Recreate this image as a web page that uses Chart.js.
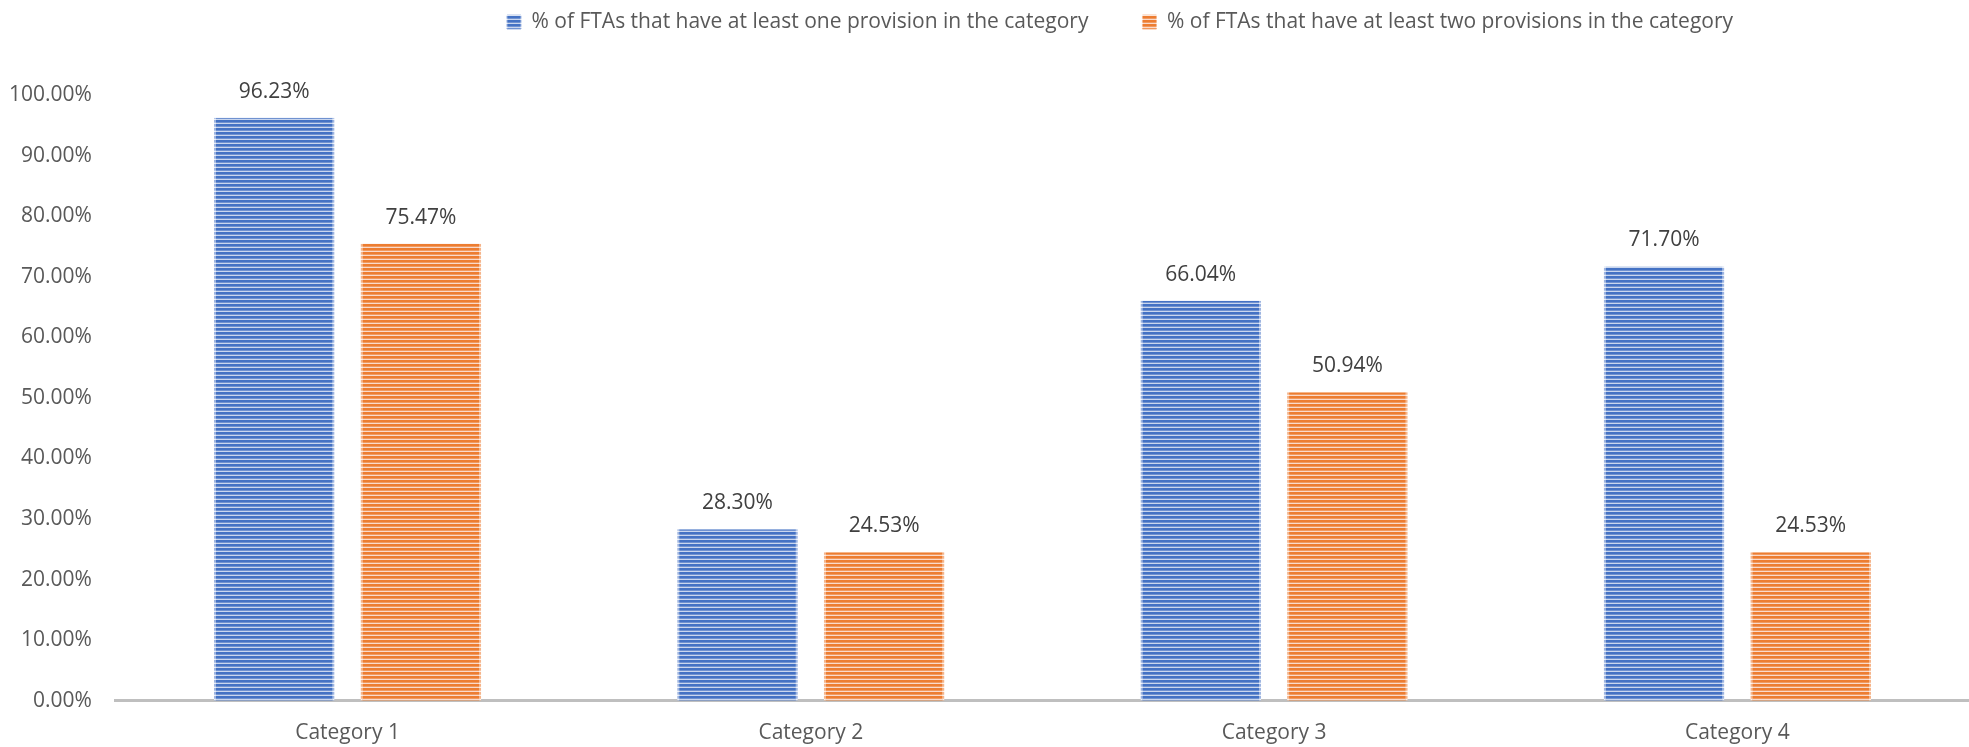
<!DOCTYPE html>
<html>
<head>
<meta charset="utf-8">
<script src="https://cdn.jsdelivr.net/npm/chart.js@4.4.0/dist/chart.umd.min.js"></script>
<style>
  html, body { margin: 0; padding: 0; background: #ffffff; }
  #wrap { width: 1969px; height: 747px; position: relative; }
</style>
</head>
<body>
<div id="wrap"><canvas id="chart" width="1969" height="747"></canvas></div>
<script>
// ---- data ----
const categories = ['Category 1', 'Category 2', 'Category 3', 'Category 4'];
const seriesNames = [
  '% of FTAs that have at least one provision in the category',
  '% of FTAs that have at least two provisions in the category'
];
const atLeastOne = [96.23, 28.30, 66.04, 71.70];
const atLeastTwo = [75.47, 24.53, 50.94, 24.53];
const yTickValues = [0, 10, 20, 30, 40, 50, 60, 70, 80, 90, 100];

// ---- styling helpers ----
const FONT = '"Open Sans", "Liberation Sans", sans-serif';
function stripes(dark, mid, light) {
  const c = document.createElement('canvas');
  c.width = 4; c.height = 4;
  const x = c.getContext('2d');
  x.fillStyle = dark;  x.fillRect(0, 0, 4, 2);
  x.fillStyle = mid;   x.fillRect(0, 2, 4, 1);
  x.fillStyle = light; x.fillRect(0, 3, 4, 1);
  return x.createPattern(c, 'repeat');
}
const bluePat = stripes('#4472C4', '#7092D0', '#C9D6EE');
const blueEdge = stripes('#9DB4E0', '#B5C7E8', '#EBF0F9');
const orangePat = stripes('#ED7D31', '#F09A60', '#FADACB');
const orangeEdge = stripes('#F5B48A', '#F7C4A2', '#FDF0E7');

const valueLabels = {
  id: 'valueLabels',
  afterDatasetsDraw(chart) {
    const ctx = chart.ctx;
    ctx.save();
    ctx.font = '21px ' + FONT;
    ctx.fillStyle = '#404040';
    ctx.textAlign = 'center';
    ctx.textBaseline = 'middle';
    chart.data.datasets.forEach((ds, i) => {
      chart.getDatasetMeta(i).data.forEach((bar, j) => {
        ctx.fillText(ds.data[j].toFixed(2) + '%', bar.x, bar.y - 26);
      });
    });
    ctx.restore();
  }
};

const legendPlace = {
  id: 'legendPlace',
  afterLayout(chart) {
    const l = chart.legend;
    if (!l) return;
    const dx = 131;
    l.left += dx; l.right += dx;
    const fs = 21;
    const dy = 22 - (l.top + l.options.labels.padding + fs / 2);
    l.top += dy; l.bottom += dy;
  }
};

new Chart(document.getElementById('chart'), {
  type: 'bar',
  data: {
    labels: categories,
    datasets: [
      { label: seriesNames[0], data: atLeastOne, backgroundColor: bluePat,
        borderColor: blueEdge, borderWidth: { left: 2, right: 2, top: 0, bottom: 0 }, borderSkipped: false },
      { label: seriesNames[1], data: atLeastTwo, backgroundColor: orangePat,
        borderColor: orangeEdge, borderWidth: { left: 2, right: 2, top: 0, bottom: 0 }, borderSkipped: false }
    ]
  },
  options: {
    responsive: false,
    devicePixelRatio: 1,
    animation: false,
    events: [],
    categoryPercentage: 0.633,
    barPercentage: 0.823,
    layout: { padding: { left: 9, right: 0, top: 10, bottom: 1 } },
    plugins: {
      legend: {
        position: 'top',
        align: 'center',
        labels: {
          boxWidth: 14, boxHeight: 14, padding: 54,
          color: '#595959',
          font: { family: FONT, size: 21 }
        }
      },
      tooltip: { enabled: false },
      title: { display: false }
    },
    scales: {
      x: {
        grid: { display: false, drawTicks: false },
        border: { display: true, color: '#BFBFBF', width: 3 },
        ticks: { color: '#595959', padding: 20, font: { family: FONT, size: 21 } },
        afterFit(scale) { scale.height -= 20; }
      },
      y: {
        min: 0, max: 100,
        afterBuildTicks(scale) { scale.ticks = yTickValues.map(v => ({ value: v })); },
        grid: { display: false, drawTicks: false },
        border: { display: false },
        ticks: {
          color: '#595959', padding: 24,
          font: { family: FONT, size: 21 },
          callback: v => Number(v).toFixed(2) + '%'
        },
        afterFit(scale) { scale.width -= 24; }
      }
    }
  },
  plugins: [valueLabels, legendPlace]
});
</script>
</body>
</html>
